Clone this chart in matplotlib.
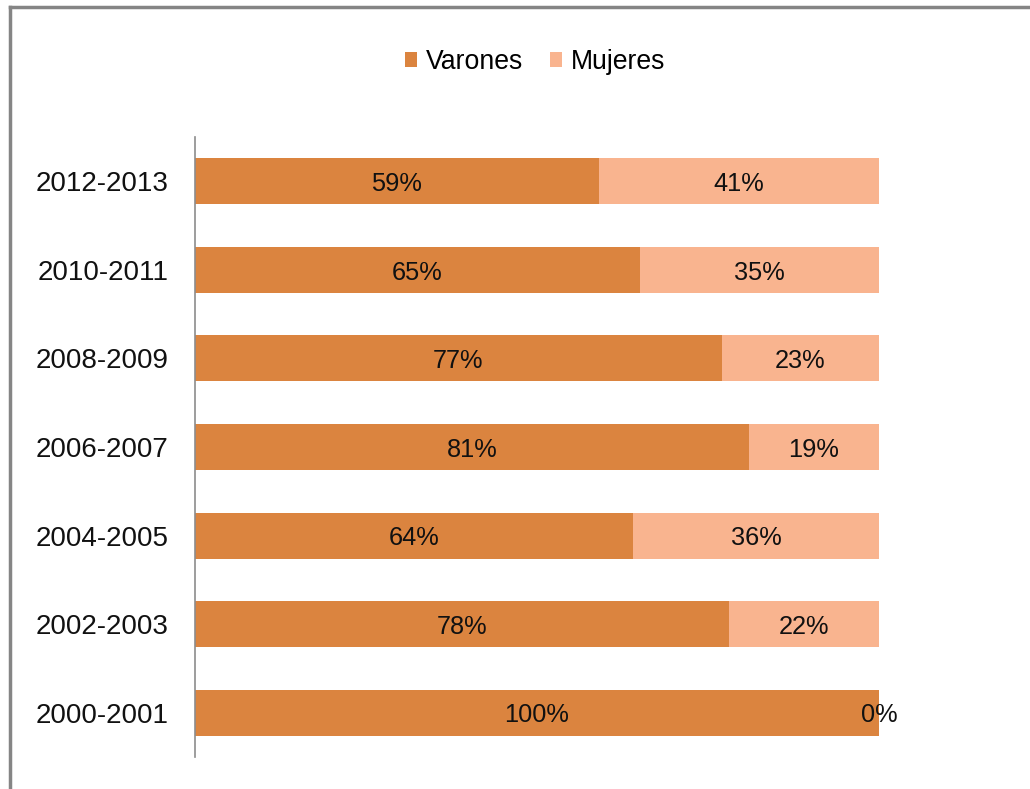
import matplotlib.pyplot as plt
from matplotlib.lines import Line2D
from matplotlib import font_manager

# data, bottom to top as drawn
periodos = ['2000-2001', '2002-2003', '2004-2005', '2006-2007',
            '2008-2009', '2010-2011', '2012-2013']
varones = [100, 78, 64, 81, 77, 65, 59]
mujeres = [0, 22, 36, 19, 23, 35, 41]

c_var = '#DB843F'
c_muj = '#F9B48F'

# a condensed face looks closer to the original, use it if it is there
names = set(f.name for f in font_manager.fontManager.ttflist)
if 'Liberation Sans Narrow' in names:
    fam, k = 'Liberation Sans Narrow', 1.15
elif 'DejaVu Sans Condensed' in names:
    fam, k = 'DejaVu Sans Condensed', 0.95
else:
    fam, k = 'Liberation Sans', 0.87
plt.rcParams['font.family'] = [fam, 'DejaVu Sans']

fig = plt.figure(figsize=(10.3, 7.89), dpi=100)
ax = fig.add_axes([195/1030, 1 - 757/789, (879 - 195)/1030, (757 - 137)/789])

y = range(len(periodos))
ax.barh(y, varones, height=0.52, color=c_var, label='Varones')
ax.barh(y, mujeres, left=varones, height=0.52, color=c_muj, label='Mujeres')

for i in y:
    ax.text(varones[i] / 2, i - 0.03, str(varones[i]) + '%', ha='center', va='center',
            fontsize=21 * k, color='#111111')
    if mujeres[i] > 0:
        xm = varones[i] + mujeres[i] / 2
    else:
        xm = 100
    ax.text(xm, i - 0.03, str(mujeres[i]) + '%', ha='center', va='center',
            fontsize=21 * k, color='#111111')

ax.set_xlim(0, 100)
ax.set_ylim(-0.5, 6.5)
ax.set_yticks(list(y))
ax.set_yticklabels(periodos, fontsize=23 * k, color='#111111')
ax.tick_params(axis='y', length=0, pad=19)
ax.set_xticks([])
for s in ['top', 'right', 'bottom']:
    ax.spines[s].set_visible(False)
ax.spines['left'].set_color('#8c8c8c')
ax.spines['left'].set_linewidth(1.2)

ax.legend(loc='center', bbox_to_anchor=(535/1030, 1 - 62/789),
          bbox_transform=fig.transFigure, ncol=2, frameon=False,
          fontsize=22 * k, handlelength=0.45, handleheight=0.45,
          handletextpad=0.35, columnspacing=1.0)

# outer frame (only top and left visible in the crop)
fig.add_artist(Line2D([10/1030, 1], [1 - 7/789, 1 - 7/789], color='#858585', lw=2.5,
                      transform=fig.transFigure))
fig.add_artist(Line2D([10/1030, 10/1030], [0, 1 - 7/789], color='#858585', lw=2.5,
                      transform=fig.transFigure))

fig.savefig('out.png', dpi=100)
